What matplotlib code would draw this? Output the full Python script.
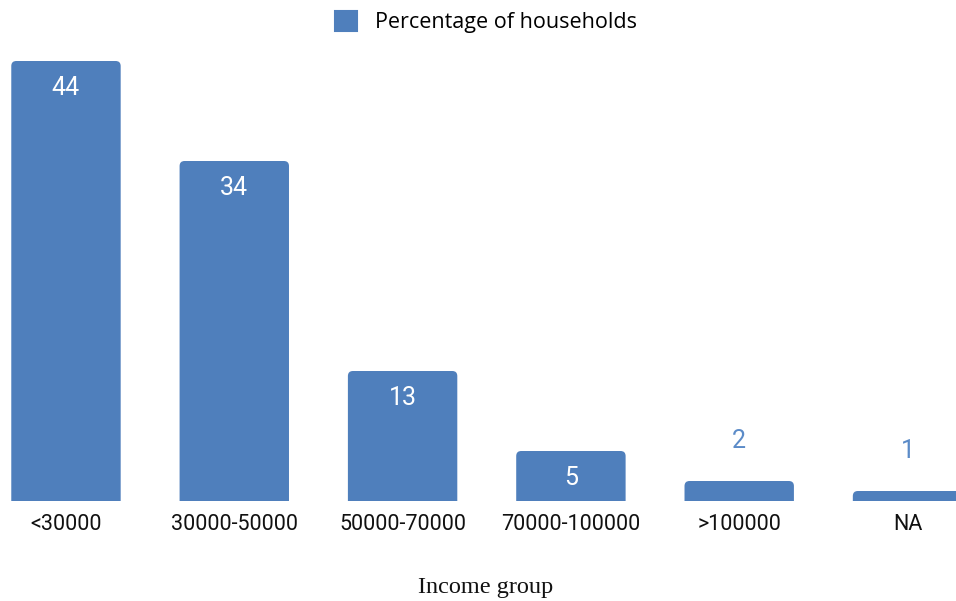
import matplotlib
matplotlib.use("Agg")
import matplotlib.pyplot as plt
from matplotlib.patches import FancyBboxPatch, Patch

categories = ["<30000", "30000-50000", "50000-70000", "70000-100000", ">100000", "NA"]
percentages = [44, 34, 13, 5, 2, 1]
series_name = "Percentage of households"
x_title = "Income group"

bar_color = "#4f7fbc"
outside_label_color = "#5b8bc8"

fig = plt.figure(figsize=(9.56, 6.01), dpi=100)
ax = fig.add_axes([0, 100 / 601, 1, 450 / 601])

x = list(range(len(categories)))
bars = ax.bar(x, percentages, width=0.65, color=bar_color)

# Replace the square bars with versions that have softly rounded tops
rx = 0.03   # corner radius in x data units
ry = 0.5    # corner radius in y data units
for rect in bars:
    rect.set_visible(False)
    x0, w, h = rect.get_x(), rect.get_width(), rect.get_height()
    patch = FancyBboxPatch((x0, -2), w, h + 2,
                           boxstyle=f"round,pad=0,rounding_size={rx}",
                           mutation_aspect=ry / rx,
                           facecolor=bar_color, edgecolor="none")
    ax.add_patch(patch)

ax.set_xlim(-0.392, 5.288)
ax.set_ylim(0, 45)

for xi, v in zip(x, percentages):
    if v >= 5:
        ax.annotate(str(v), (xi, v), xytext=(0, -27), textcoords="offset pixels",
                    ha="center", va="center", color="white",
                    fontsize=18, family="Roboto")
    else:
        ax.annotate(str(v), (xi, v), xytext=(0, 40), textcoords="offset pixels",
                    ha="center", va="center", color=outside_label_color,
                    fontsize=18, family="Roboto")

ax.set_xticks(x)
ax.set_xticklabels(categories, fontsize=15.5, family="Roboto", color="#111111")
ax.tick_params(axis="x", length=0, pad=9)
ax.set_yticks([])
for s in ax.spines.values():
    s.set_visible(False)

fig.text(486 / 956, 1 - 587 / 601, x_title, ha="center", va="center",
         fontsize=17.5, family="Liberation Serif", color="#111111")

handle = Patch(facecolor=bar_color, edgecolor=bar_color, linewidth=1.5, joinstyle="round")
fig.legend([handle], [series_name], loc="center", bbox_to_anchor=(486 / 956, 1 - 22 / 601),
           frameon=False, prop={"family": "Open Sans", "size": 15.5},
           handlelength=1.05, handleheight=1.05, handletextpad=0.85)

fig.savefig("out.png", dpi=100)
